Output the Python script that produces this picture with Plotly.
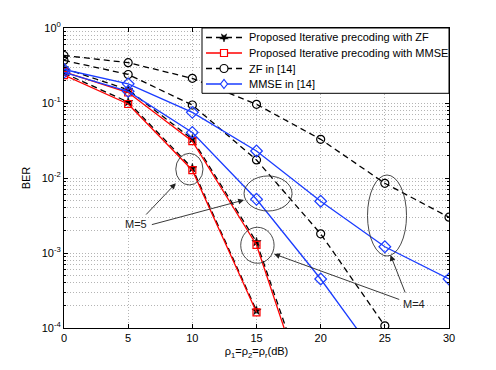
import plotly.graph_objects as go

snr = [0, 5, 10, 15, 20, 25, 30]

# Proposed iterative precoding with ZF (two antenna settings)
prop_zf_m4 = [0.29, 0.15, 0.033, 0.0014, 4.5e-6, None, None]
prop_zf_m5 = [0.25, 0.103, 0.0135, 1.7e-4, None, None, None]
# Proposed iterative precoding with MMSE
prop_mmse_m4 = [0.26, 0.138, 0.031, 0.00128, 3.4e-6, None, None]
prop_mmse_m5 = [0.236, 0.097, 0.0127, 1.62e-4, None, None, None]
# ZF in [14]
zf14_m4 = [0.43, 0.345, 0.213, 0.096, 0.0328, 0.0085, 0.003]
zf14_m5 = [0.37, 0.24, 0.094, 0.0174, 0.0018, 1.07e-4, None]
# MMSE in [14]
mmse14_m4 = [0.28, 0.18, 0.075, 0.0229, 0.0049, 0.00121, 4.5e-4]
mmse14_m5 = [0.257, 0.143, 0.0405, 0.0052, 4.5e-4, 3e-5, None]

legend_names = ["Proposed Iterative precoding with ZF", "Proposed Iterative precoding with MMSE",
                "ZF in [14]", "MMSE in [14]"]

ytick_vals = [1e-4, 1e-3, 1e-2, 1e-1, 1]
ytick_text = ["10<sup>-4</sup>", "10<sup>-3</sup>", "10<sup>-2</sup>", "10<sup>-1</sup>", "10<sup>0</sup>"]
xtick_vals = [0, 5, 10, 15, 20, 25, 30]

BLUE = "#1a3cff"
RED = "#ff0000"
FONT = "Liberation Sans, Arial, sans-serif"
DASH = "6px,4px"
GRID = "#b4b4b4"
GDASH = "1px,2px"

# page geometry: the page body adds an 8px offset, so margins compensate
W, H = 496, 370
OFF = 8
PL, PR, PT, PB = 64, 449, 28, 328          # plot area on screen
ML, MT = PL - OFF, PT - OFF
MR, MB = (W + OFF) - PR, (H + OFF) - PB
PW, PH = PR - PL, PB - PT

def px2paper(px, py):
    return (px - PL) / PW, (PB - py) / PH

fig = go.Figure()

styles = [
    (prop_zf_m4, "black", DASH, "star", 7, True),
    (prop_zf_m5, "black", DASH, "star", 7, True),
    (prop_mmse_m4, RED, "solid", "square-open", 7, False),
    (prop_mmse_m5, RED, "solid", "square-open", 7, False),
    (zf14_m4, "black", DASH, "circle-open", 8, False),
    (zf14_m5, "black", DASH, "circle-open", 8, False),
    (mmse14_m4, BLUE, "solid", "diamond-open", 9, False),
    (mmse14_m5, BLUE, "solid", "diamond-open", 9, False),
]
for y, color, dash, symbol, size, filled in styles:
    fig.add_trace(go.Scatter(
        x=snr, y=y, mode="lines+markers", showlegend=False,
        line=dict(color=color, width=1.3, dash=dash),
        marker=dict(symbol=symbol, size=size, color=color,
                    line=dict(color=color, width=1.2 if not filled else 0.5)),
    ))

minor_vals = [k * 10 ** d for d in range(-4, 0) for k in range(2, 10)]

# ellipses (x range in dB, y range in BER)
ellipses = [
    (8.71, 10.83, 10 ** -1.671, 10 ** -2.093),
    (14.03, 17.77, 10 ** -1.973, 10 ** -2.44),
    (13.77, 16.37, 10 ** -2.657, 10 ** -3.137),
    (23.65, 26.69, 10 ** -1.96, 10 ** -3.04),
]
shapes = []
for x0, x1, y0, y1 in ellipses:
    shapes.append(dict(type="circle", xref="x", yref="y", x0=x0, x1=x1, y0=y1, y1=y0,
                       line=dict(color="#333333", width=0.9)))

# ---- legend drawn by hand so the row spacing matches ----
bx0, by0 = px2paper(202, 93.3)
bx1, by1 = px2paper(449, 28)
shapes.append(dict(type="rect", xref="paper", yref="paper", x0=bx0, y0=by0, x1=bx1, y1=by1,
                   fillcolor="white", line=dict(color="black", width=1), layer="above"))
rows_py = [37.5, 53.0, 68.5, 84.0]
leg_styles = [("black", "dash", "star"), (RED, "solid", "square"),
              ("black", "dash", "circle"), (BLUE, "solid", "diamond")]
annotations = []
star_path = "M 0,-4.5 L 1.1,-1.4 L 4.3,-1.4 L 1.7,0.5 L 2.7,3.6 L 0,1.8 L -2.7,3.6 L -1.7,0.5 L -4.3,-1.4 L -1.1,-1.4 Z"
for py, name, (color, dash, sym) in zip(rows_py, legend_names, leg_styles):
    lx0, ly = px2paper(206, py)
    lx1, _ = px2paper(242, py)
    mx, _ = px2paper(224, py)
    shapes.append(dict(type="line", xref="paper", yref="paper", x0=lx0, x1=lx1, y0=ly, y1=ly,
                       line=dict(color=color, width=1.3, dash=DASH if dash == "dash" else "solid"),
                       layer="above"))
    common = dict(xref="paper", yref="paper", xsizemode="pixel", ysizemode="pixel",
                  xanchor=mx, yanchor=ly, layer="above")
    if sym == "star":
        shapes.append(dict(type="path", path=star_path, fillcolor="black",
                           line=dict(color="black", width=0.5), **common))
    elif sym == "square":
        shapes.append(dict(type="rect", x0=-3.5, x1=3.5, y0=-3.5, y1=3.5, fillcolor="white",
                           line=dict(color=color, width=1.2), **common))
    elif sym == "circle":
        shapes.append(dict(type="circle", x0=-4, x1=4, y0=-4, y1=4, fillcolor="white",
                           line=dict(color=color, width=1.2), **common))
    else:
        shapes.append(dict(type="path", path="M 0,-4.5 L 3.5,0 L 0,4.5 L -3.5,0 Z", fillcolor="white",
                           line=dict(color=color, width=1.2), **common))
    tx, _ = px2paper(247, py)
    annotations.append(dict(x=tx, y=ly, xref="paper", yref="paper", text=name, showarrow=False,
                            xanchor="left", yanchor="middle",
                            font=dict(size=11, family=FONT, color="black")))

# arrows: (tail x, tail log10 y, head x, head log10 y)
arrows = [
    (6.29, -2.507, 8.71, -2.071),
    (6.73, -2.627, 14.03, -2.293),
    (26.63, -3.547, 25.44, -3.027),
    (26.24, -3.627, 16.37, -3.013),
]
for tx, ty, hx, hy in arrows:
    annotations.append(dict(x=hx, y=hy, ax=tx, ay=ty, xref="x", yref="y", axref="x", ayref="y",
                            text="", showarrow=True, arrowhead=2, arrowsize=1.3, arrowwidth=0.9,
                            arrowcolor="#222222"))
annotations.append(dict(x=5.59, y=-2.613, xref="x", yref="y", text="M=5", showarrow=False,
                        font=dict(size=11, family=FONT, color="#222222")))
annotations.append(dict(x=27.3, y=-3.68, xref="x", yref="y", text="M=4", showarrow=False,
                        font=dict(size=11, family=FONT, color="#222222")))

fig.update_layout(
    width=W, height=H,
    margin=dict(l=ML, r=MR, t=MT, b=MB),
    paper_bgcolor="white", plot_bgcolor="white",
    font=dict(family=FONT, size=11, color="black"),
    shapes=shapes, annotations=annotations,
    showlegend=False,
    xaxis=dict(range=[0, 30], tickvals=xtick_vals, showgrid=True, gridcolor=GRID,
               griddash=GDASH, gridwidth=1, zeroline=False, showline=True, linecolor="black",
               linewidth=1, mirror="ticks", ticks="inside", ticklen=4, tickcolor="black",
               automargin=False,
               title=dict(text="ρ<sub>1</sub>=ρ<sub>2</sub>=ρ<sub>r</sub>(dB)", font=dict(size=11), standoff=4),
               tickfont=dict(size=11)),
    yaxis=dict(type="log", range=[-4, 0], tickvals=ytick_vals, ticktext=ytick_text,
               showgrid=True, gridcolor=GRID, griddash=GDASH, gridwidth=1,
               zeroline=False, showline=True, linecolor="black", linewidth=1, mirror="ticks",
               ticks="inside", ticklen=4, tickcolor="black", automargin=False,
               minor=dict(tickmode="array", tickvals=minor_vals, showgrid=True, gridcolor=GRID,
                          griddash=GDASH, gridwidth=1, ticks="inside", ticklen=2, tickcolor="black"),
               title=dict(text="BER", font=dict(size=11), standoff=8),
               tickfont=dict(size=11)),
)

fig.write_html("out.html")
